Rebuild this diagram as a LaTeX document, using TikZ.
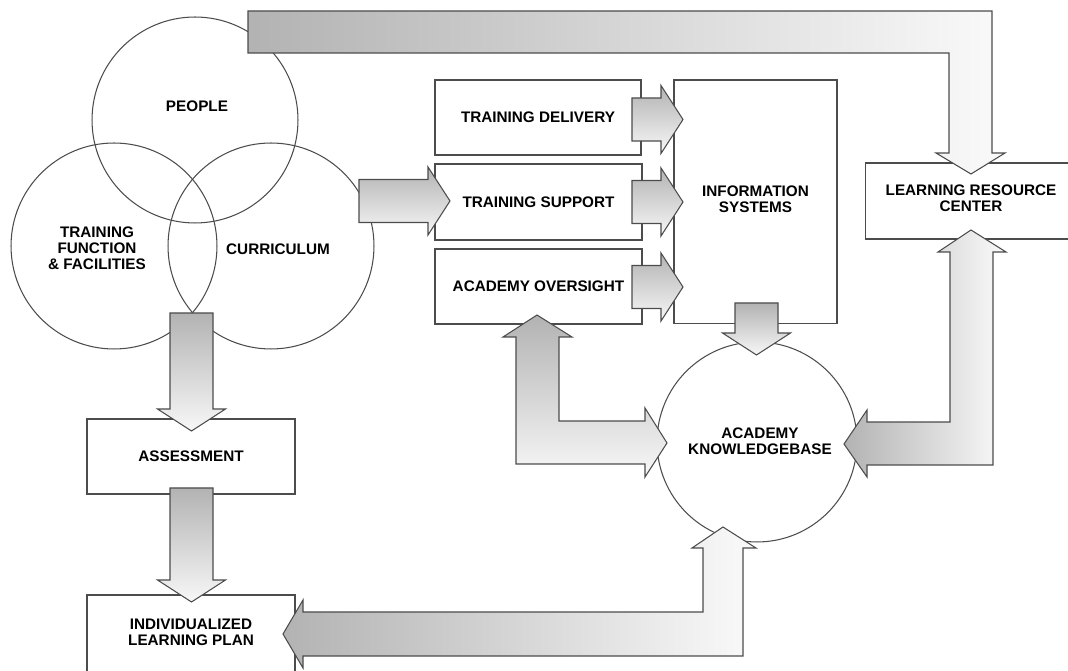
\documentclass[tikz,border=0pt]{standalone}
\usepackage{fontspec}
\setmainfont{Liberation Sans}
\usetikzlibrary{positioning}

\tikzset{
  txt/.style={font=\fontsize{8.7}{9.2}\selectfont\bfseries, align=center},
  box/.style={txt, draw=black!70, line width=0.6pt, fill=white, inner sep=0pt},
  ring/.style={draw=black!70, line width=0.6pt, circle, inner sep=0pt},
  fatarrow/.style={draw=black!70, line width=0.6pt, line join=miter},
  hshade/.style={left color=black!30, right color=black!2},
  vshade/.style={top color=black!30, bottom color=black!3},
}

% straight block arrows: x, top, tip  /  start, tip, y
\newcommand{\blockdown}[3]{%
  \draw[fatarrow, vshade] ({#1-21.5},#2) -- ({#1+21.5},#2) -- ({#1+21.5},{#3-22})
    -- ({#1+34},{#3-22}) -- (#1,#3) -- ({#1-34},{#3-22}) -- ({#1-21.5},{#3-22}) -- cycle;}
\newcommand{\blockright}[3]{%
  \draw[fatarrow, vshade] (#1,{#3-21.5}) -- ({#2-22},{#3-21.5}) -- ({#2-22},{#3-34})
    -- (#2,#3) -- ({#2-22},{#3+34}) -- ({#2-22},{#3+21.5}) -- (#1,{#3+21.5}) -- cycle;}

\begin{document}
\begin{tikzpicture}[x=0.02cm, y=-0.02cm]
    \useasboundingbox (0,0) rectangle (1068,671);

    % Venn circles
    \node[ring, minimum size=4.12cm] (people) at (195,120) {};
    \node[ring, minimum size=4.12cm] (function) at (114,246) {};
    \node[ring, minimum size=4.12cm] (curriculum) at (271,246) {};
    \node[txt] (peoplelbl) at (197,106) {PEOPLE};
    \node[txt] (functionlbl) at (97,248) {TRAINING\\FUNCTION\\\& FACILITIES};
    \node[txt] (curriculumlbl) at (278,249) {CURRICULUM};

    % Boxes
    \node[box, minimum width=4.12cm, minimum height=1.5cm] (delivery) at (538,117.5) {TRAINING DELIVERY};
    \node[box, minimum width=4.14cm, minimum height=1.52cm] (support) at (538.5,202) {TRAINING SUPPORT};
    \node[box, minimum width=4.14cm, minimum height=1.5cm] (oversight) at (538.5,286.5) {ACADEMY OVERSIGHT};
    \node[box, minimum width=3.26cm, minimum height=4.88cm, text depth=0.12cm] (infosys) at (755.5,202) {INFORMATION\\SYSTEMS};
    \node[box, minimum width=4.24cm, minimum height=1.52cm, text depth=0.12cm] (resource) at (971,201) {LEARNING RESOURCE\\CENTER};
    \node[box, minimum width=4.16cm, minimum height=1.5cm] (assess) at (191,456.5) {ASSESSMENT};
    \node[box, minimum width=4.16cm, minimum height=1.54cm, text depth=0.06cm] (plan) at (191,633.5) {INDIVIDUALIZED\\LEARNING PLAN};
    \node[ring, minimum size=4cm] (knowledge) at (757,442) {};
    \node[txt] (knowledgelbl) at (760,441) {ACADEMY\\KNOWLEDGEBASE};

    % Top arrow to learning resource center
    \draw[fatarrow, hshade] (248,11) -- (992,11) -- (992,153) -- (1005,153) -- (971,174)
        -- (936,153) -- (949,153) -- (949,53) -- (248,53) -- cycle;

    % Straight arrows
    \blockright{359}{450}{201}
    \blockright{632}{683}{119.5}
    \blockright{632}{683}{202}
    \blockright{632}{683}{287}
    \blockdown{756.5}{303}{355}
    \blockdown{191.5}{313}{431}
    \blockdown{191.5}{488}{602}

    % Knowledgebase <-> oversight
    \draw[fatarrow, vshade] (537,315) -- (572,337) -- (559,337) -- (559,421) -- (645,421)
        -- (645,408) -- (667,443) -- (645,477) -- (645,464) -- (516,464) -- (516,337)
        -- (503,337) -- cycle;

    % Knowledgebase <-> learning resource center
    \draw[fatarrow, hshade] (844,444) -- (867,410) -- (867,422) -- (950,422) -- (950,252)
        -- (938,252) -- (971,230) -- (1006,252) -- (993,252) -- (993,465) -- (867,465)
        -- (867,477) -- cycle;

    % Knowledgebase <-> learning plan
    \draw[fatarrow, hshade] (723,527) -- (756,548) -- (743,548) -- (743,656) -- (303,656)
        -- (303,668) -- (283,634) -- (303,600) -- (303,612) -- (703,612) -- (703,548)
        -- (692,548) -- cycle;
\end{tikzpicture}
\end{document}
